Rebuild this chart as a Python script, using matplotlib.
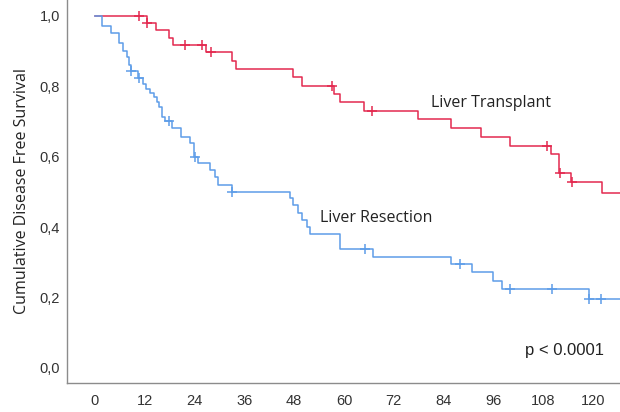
import numpy as np
import matplotlib
matplotlib.use("Agg")
import matplotlib.pyplot as plt

# Liver Transplant (red) — event times (months) and survival after each drop
lt_times = [12.5, 14.7, 17.8, 18.9, 26.7, 32.9, 33.9, 47.8, 49.8, 57.7, 59.0,
            64.9, 77.9, 85.9, 93.0, 100.0, 109.8, 111.9, 114.8, 122.1]
lt_surv = [0.980, 0.959, 0.938, 0.918, 0.896, 0.872, 0.849, 0.825, 0.801, 0.777,
           0.754, 0.730, 0.706, 0.681, 0.657, 0.631, 0.607, 0.553, 0.527, 0.498]
lt_censor = [10.7, 12.6, 21.8, 25.9, 27.9, 57.0, 66.7, 109.0, 112.0, 115.0]

# Liver Resection (blue)
lr_times = [1.8, 3.9, 5.8, 6.8, 7.8, 8.3, 8.7, 10.4, 11.5, 12.3, 13.3, 14.3, 14.9,
            15.4, 16.1, 16.9, 18.6, 20.7, 22.9, 23.9, 24.9, 27.7, 28.9, 29.7, 32.9,
            47.0, 47.8, 49.0, 49.8, 51.0, 51.8, 59.0, 66.9, 85.9, 90.9, 96.0, 98.0, 119.1]
lr_surv = [0.972, 0.951, 0.922, 0.899, 0.883, 0.861, 0.842, 0.823, 0.807, 0.793,
           0.780, 0.769, 0.754, 0.742, 0.714, 0.700, 0.681, 0.657, 0.638, 0.600,
           0.582, 0.5625, 0.543, 0.520, 0.499, 0.482, 0.463, 0.440, 0.420, 0.401,
           0.381, 0.337, 0.316, 0.295, 0.271, 0.247, 0.224, 0.195]
lr_censor = [8.8, 10.6, 17.9, 24.0, 32.9, 65.0, 88.0, 100.0, 110.0, 119.1, 121.9]

x_ticks = [0, 12, 24, 36, 48, 60, 72, 84, 96, 108, 120]
y_ticks = [0.0, 0.2, 0.4, 0.6, 0.8, 1.0]
y_ticklabels = ["0,0", "0,2", "0,4", "0,6", "0,8", "1,0"]

red = "#E3294F"
blue = "#5E9DE8"
END = 130

fig = plt.figure(figsize=(6.2, 4.12), dpi=100)
ax = fig.add_axes([0.108, 0.0704, 0.892, 0.9296])


def km(ax, times, surv, censor, color):
    x = np.array([0.0] + list(times) + [END])
    y = np.array([1.0] + list(surv) + [surv[-1]])
    ax.step(x, y, where="post", color=color, lw=1.1, clip_on=True)
    c = np.array(censor)
    idx = np.searchsorted(x, c, side="right") - 1
    ax.plot(c, y[idx], linestyle="none", marker="+", color=color,
            markersize=6.5, mew=1.1)


km(ax, lt_times, lt_surv, lt_censor, red)
km(ax, lr_times, lr_surv, lr_censor, blue)

ax.set_xlim(-6.75, 126.5)
ax.set_ylim(-0.043, 1.045)
ax.set_xticks(x_ticks)
ax.set_yticks(y_ticks)
ax.set_yticklabels(y_ticklabels)
ax.tick_params(length=0, labelsize=10.5, colors="#333333", labelcolor="#333333")
ax.tick_params(axis="x", pad=8)
ax.tick_params(axis="y", pad=5)
for lab in ax.get_xticklabels() + ax.get_yticklabels():
    lab.set_family("Liberation Sans")

for s in ["top", "right"]:
    ax.spines[s].set_visible(False)
for s in ["left", "bottom"]:
    ax.spines[s].set_color("#8c8c8c")
    ax.spines[s].set_linewidth(1.0)

ax.set_ylabel("Cumulative Disease Free Survival", fontsize=11.5, family="Open Sans",
              color="#222222", labelpad=7)

ax.text(81.0, 0.752, "Liver Transplant", fontsize=11.5, family="Open Sans",
        color="#222222", ha="left", va="center")
ax.text(54.2, 0.425, "Liver Resection", fontsize=11.5, family="Open Sans",
        color="#222222", ha="left", va="center")
ax.text(103.6, 0.049, "p < 0.0001", fontsize=12, family="Liberation Sans",
        color="#222222", ha="left", va="center")

fig.savefig("out.png", dpi=100)
